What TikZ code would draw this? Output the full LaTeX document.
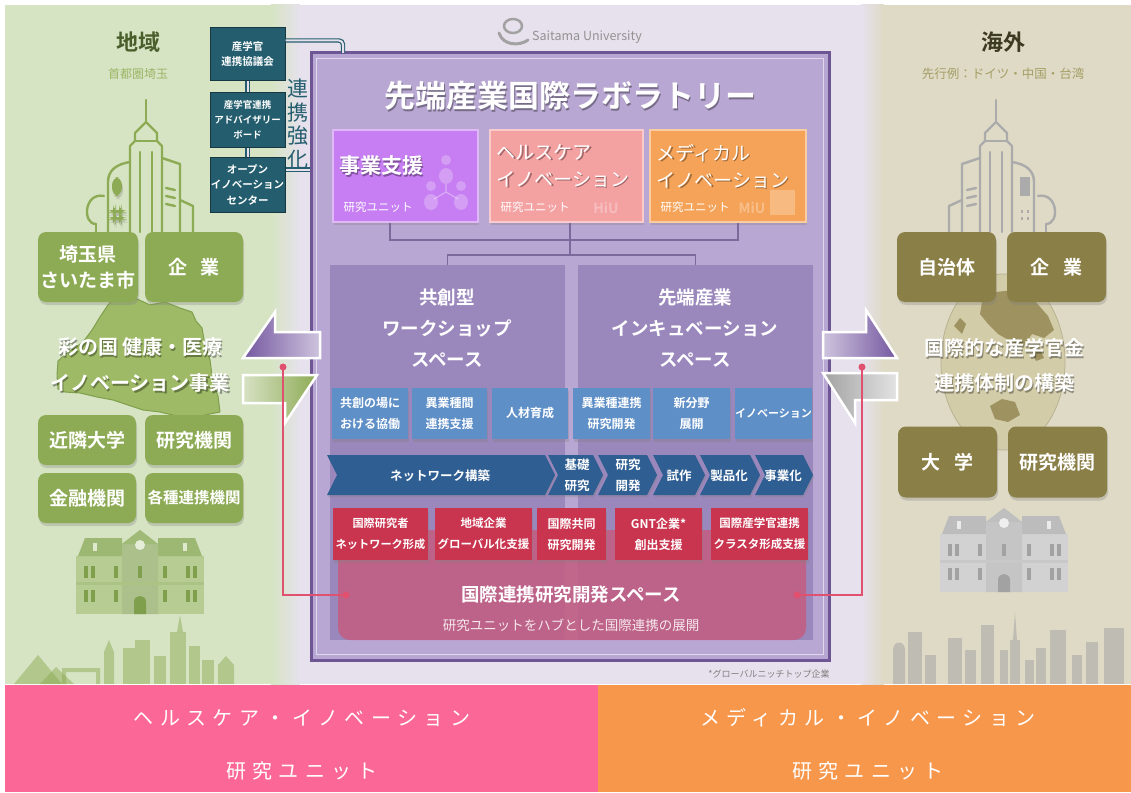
\documentclass[tikz,border=0pt]{standalone}
\usepackage{fontspec}
\setmainfont{Noto Sans CJK JP}[BoldFont={Noto Sans CJK JP Bold}]
\newfontfamily\widejp{Noto Sans CJK JP}[LetterSpace=32]
\usetikzlibrary{calc,shadows}
\newcommand\fsz[2]{\fontsize{#1}{#2}\selectfont}

\definecolor{bgmid}{HTML}{E6E1EC}
\definecolor{bgleft}{HTML}{D6E4C3}
\definecolor{bgright}{HTML}{DEDAC5}
\definecolor{gbox}{HTML}{8DAB55}
\definecolor{gdark}{HTML}{4B5F2C}
\definecolor{glight}{HTML}{9CB566}
\definecolor{gmap}{HTML}{9EBA66}
\definecolor{obox}{HTML}{8B7F48}
\definecolor{odark}{HTML}{3D3A22}
\definecolor{olight}{HTML}{A59E66}
\definecolor{globefill}{HTML}{D3CCA9}
\definecolor{grayline}{HTML}{ABABAB}
\definecolor{graybody}{HTML}{D2D2D2}
\definecolor{graydark}{HTML}{A2A2A2}
\definecolor{gbody}{HTML}{B6CC93}
\definecolor{gwin}{HTML}{7F9F4C}
\definecolor{tealbox}{HTML}{245E6E}
\definecolor{labedge}{HTML}{6E5593}
\definecolor{labfill}{HTML}{B8A7D2}
\definecolor{spacefill}{HTML}{9A87BC}
\definecolor{bluebox}{HTML}{5F8FC7}
\definecolor{chev}{HTML}{2F5E92}
\definecolor{redbox}{HTML}{C9354F}
\definecolor{pinkarea}{HTML}{C45C80}
\definecolor{unitA}{HTML}{C67EF2}
\definecolor{unitB}{HTML}{F4A1A2}
\definecolor{unitC}{HTML}{F5A358}
\definecolor{barpink}{HTML}{FB6797}
\definecolor{barorange}{HTML}{F7974C}
\definecolor{redline}{HTML}{E0516F}
\definecolor{treeline}{HTML}{7D6A9C}
\definecolor{arrowpurple}{HTML}{7457A0}

\tikzset{
  box/.style={inner sep=0pt, align=center, text=white},
  softshadow/.style={drop shadow={opacity=0.3, shadow xshift=1pt, shadow yshift=-3pt}},
  gbox/.style={box, rounded corners=8pt, fill=gbox, font=\bfseries\fsz{19}{26}, softshadow},
  obox/.style={gbox, fill=obox},
  tbox/.style={box, fill=tealbox, draw=tealbox!60!black, line width=1pt, minimum width=75pt},
  unitbox/.style={box, minimum height=92pt, line width=1.5pt, softshadow},
  spacebox/.style={box, fill=spacefill, minimum width=235pt, minimum height=375pt},
  bbox/.style={box, fill=bluebox, minimum height=51pt, font=\bfseries\fsz{12}{21}, softshadow},
  rbox/.style={box, fill=redbox, minimum height=52pt, font=\bfseries\fsz{12}{21}, softshadow},
  chevtext/.style={text=white, font=\bfseries\fsz{12.5}{21}, align=center},
  chevshape/.style={fill=chev, drop shadow={opacity=0.3, shadow xshift=1pt, shadow yshift=-2pt}},
  bartext/.style={text=white, font=\widejp\fsz{20}{24}},
  tealdbl/.style={draw=tealbox, double=bgmid, double distance=2pt, line width=1.2pt},
  treeconn/.style={draw=treeline, line width=1.2pt},
  redconn/.style={draw=redline, line width=2pt},
  reddot/.style={circle, fill=redline, inner sep=0pt, minimum size=7pt},
  arrowedge/.style={draw=white, line width=2.5pt, line join=miter},
}

\newcommand\shadowtext[4]{%
  \node[#3, text=black, text opacity=0.35] (#1s) at ($#2+(1.5,1.5)$) {#4};
  \node[#3] (#1) at #2 {#4};}

% skyscraper outline group
\newcommand\skytower[1]{%
  \begin{scope}[draw=#1, line width=2.4pt, line join=round, line cap=round]
    \draw (146,100) -- (146,121);
    \draw (130,232) -- (130,146) -- (135,141) -- (135,133) -- (146,122) -- (157,133) -- (157,141) -- (162,146) -- (162,232);
    \draw (135,141) -- (157,141);
    \draw (140,152) -- (140,232);
    \draw (152,152) -- (152,232);
    \draw (108,232) -- (108,182) .. controls (108,170) and (117,164) .. (130,162);
    \fill[#1] (112,177) rectangle (122,196);
    \foreach \dx/\dy in {113/210,119/210,113/217,119/217} \fill[#1] (\dx,\dy) rectangle ++(2.5,2.5);
    \draw (96,232) -- (96,224);
    \draw (104,196) .. controls (84,192) and (82,224) .. (96,224);
    \draw (162,158) -- (180,164) -- (180,232);
    \draw (180,200) -- (193,206) -- (193,232);
    \draw (166,188) -- (175,190);
    \draw (166,196) -- (175,198);
    \draw (166,204) -- (175,206);
  \end{scope}}

% old university hall
\newcommand\univhall[4]{%
  \begin{scope}[shift={(#1,#2)}]
    \fill[#3] (0,26) rectangle (128,84);
    \fill[#4!45!#3] (2,26) -- (9,8) -- (46,8) -- (46,26) -- cycle;
    \fill[#4!45!#3] (82,26) -- (82,8) -- (119,8) -- (126,26) -- cycle;
    \fill[#3!94!black] (46,14) -- (64,0) -- (82,14) -- (82,84) -- (46,84) -- cycle;
    \fill[#4!40!#3] (46,14) -- (64,0) -- (82,14) -- cycle;
    \fill[white!65!#3] (64,15) circle (5);
    \fill[white!55!#3] (17,13) rectangle (21,21);
    \fill[white!55!#3] (107,13) rectangle (111,21);
    \fill[#4!20!#3] (0,52) rectangle (128,55);
    \foreach \wx in {8,15,38,87,110,117} {
      \fill[#4] (\wx,36) rectangle ++(4,12);
      \fill[#4] (\wx,60) rectangle ++(4,12);}
    \fill[#4] (62,36) rectangle ++(4,12);
    \fill[#4] (58,84) -- (58,72) .. controls (58,64) and (70,64) .. (70,72) -- (70,84) -- cycle;
  \end{scope}}

\begin{document}
\begin{tikzpicture}[x=1pt,y=-1pt]
\useasboundingbox (0,0) rectangle (1131,792);

% ---------- backgrounds ----------
\fill[white] (0,0) rectangle (1131,792);
\fill[bgleft] (5,5) rectangle (272,684);
\shade[left color=bgleft, right color=bgmid] (271,5) rectangle (300,684);
\fill[bgmid] (299,5) rectangle (862,684);
\shade[left color=bgmid, right color=bgright] (861,5) rectangle (884,684);
\fill[bgright] (883,5) rectangle (1131,684);

% ---------- bottom bars ----------
\node[fill=barpink, minimum width=593pt, minimum height=107pt, inner sep=0pt] (barL) at (301.5,738.5) {};
\node[fill=barorange, minimum width=533pt, minimum height=107pt, inner sep=0pt] (barR) at (864.5,738.5) {};
\node[bartext] (barLa) at (302,718) {ヘルスケア・イノベーション};
\node[bartext] (barLb) at (302,771) {研究ユニット};
\node[bartext] (barRa) at (868,718) {メディカル・イノベーション};
\node[bartext] (barRb) at (868,771) {研究ユニット};

% ---------- left panel : region ----------
\node[text=gdark, font=\bfseries\fsz{22}{26}] (regionT) at (138,42) {地域};
\node[text=glight, font=\fsz{12}{14}] (regionS) at (138,74) {首都圏埼玉};
\skytower{gbox}

% Saitama prefecture outline
\filldraw[fill=gmap, draw=gwin, line width=1pt, line join=round]
  (115,297) -- (125,301) -- (135,298) -- (150,305) -- (165,302) -- (180,308) -- (192,312)
  -- (196,321) -- (202,328) -- (205,345) -- (210,360) -- (213,383) -- (218,396) -- (220,412)
  -- (205,415) -- (190,418) -- (177,416) -- (160,412) -- (143,410) -- (128,405) -- (113,400)
  -- (97,397) -- (80,393) -- (65,392) -- (58,389) -- (57,375) -- (58,361) -- (67,353)
  -- (75,348) -- (83,342) -- (92,330) -- (100,317) -- (108,305) -- cycle;

\node[gbox, minimum width=100pt, minimum height=70pt] (saitama) at (88,267) {埼玉県\\さいたま市};
\node[gbox, minimum width=98pt, minimum height=70pt] (kigyoL) at (194,267) {企\hspace{14pt}業};
\shadowtext{saiT1}{(140,347)}{text=white, font=\bfseries\fsz{20}{24}}{彩の国\hspace{4pt}健康・医療}
\shadowtext{saiT2}{(140,383)}{text=white, font=\bfseries\fsz{20}{24}}{イノベーション事業}
\node[gbox, minimum width=98pt, minimum height=50pt] (kinrin) at (87,440) {近隣大学};
\node[gbox, minimum width=98pt, minimum height=50pt] (kenkyuL) at (194,440) {研究機関};
\node[gbox, minimum width=98pt, minimum height=50pt] (kinyu) at (87,498) {金融機関};
\node[gbox, minimum width=98pt, minimum height=50pt, font=\bfseries\fsz{15.5}{20}] (kakushu) at (194,498) {各種連携機関};

\univhall{76}{530}{gbody}{gwin}

% city skyline, left
\begin{scope}[fill=gbox, fill opacity=0.5]
  \fill (14,684) -- (38,655) -- (62,684) -- cycle;
  \fill (40,684) -- (56,667) -- (74,684) -- cycle;
  \fill (62,684) -- (62,668) -- (100,668) -- (100,684) -- (96,684) -- (96,672) -- (66,672) -- (66,684) -- cycle;
  \fill (104,684) -- (104,652) -- (109,640) -- (114,652) -- (114,684) -- cycle;
  \fill (123,648) rectangle (135,684);
  \fill (135,640) rectangle (150,684);
  \fill (154,656) rectangle (166,684);
  \fill (170,632) rectangle (186,684);
  \fill (177,632) -- (180,615) -- (183,632) -- cycle;
  \fill (189,646) rectangle (200,684);
  \fill (202,660) rectangle (214,684);
  \fill (218,665) -- (226,656) -- (234,665) -- (234,684) -- (218,684) -- cycle;
\end{scope}

% ---------- right panel : overseas ----------
\node[text=odark, font=\bfseries\fsz{22}{26}] (overT) at (1003,42) {海外};
\node[text=olight, font=\fsz{12.5}{14}] (overS) at (1003,74) {先行例：ドイツ・中国・台湾};
\begin{scope}[xshift=1142pt, xscale=-1]
  \skytower{grayline}
\end{scope}

% globe
\filldraw[fill=globefill, draw=obox!60, line width=0.8pt] (1003,362) ellipse [x radius=62, y radius=88];
\begin{scope}[fill=obox, fill opacity=0.75]
  \fill (982,302) -- (996,292) -- (1014,290) -- (1034,300) -- (1048,316) -- (1054,330)
    -- (1044,338) -- (1032,334) -- (1024,346) -- (1012,342) -- (998,334) -- (988,324) -- (980,314) -- cycle;
  \fill (1032,352) -- (1040,349) -- (1044,358) -- (1036,361) -- cycle;
  \fill (990,406) -- (1002,399) -- (1015,402) -- (1020,415) -- (1008,422) -- (995,419) -- cycle;
  \fill (954,326) -- (960,318) -- (966,324) -- (962,334) -- cycle;
\end{scope}

\node[obox, minimum width=99pt, minimum height=70pt] (jichitai) at (946.5,267) {自治体};
\node[obox, minimum width=99pt, minimum height=70pt] (kigyoR) at (1056.5,267) {企\hspace{14pt}業};
\shadowtext{intT1}{(1004,348)}{text=white, font=\bfseries\fsz{20}{24}}{国際的な産学官金}
\shadowtext{intT2}{(1004,383)}{text=white, font=\bfseries\fsz{20}{24}}{連携体制の構築}
\node[obox, minimum width=99pt, minimum height=71pt] (daigaku) at (947.5,462) {大\hspace{14pt}学};
\node[obox, minimum width=99pt, minimum height=71pt] (kenkyuR) at (1057.5,462) {研究機関};

\univhall{940}{508}{graybody}{graydark}

% city skyline, right
\begin{scope}[fill=graydark, fill opacity=0.5]
  \fill (893,684) -- (893,650) .. controls (893,640) and (905,640) .. (905,650) -- (905,684) -- cycle;
  \fill (908,632) rectangle (922,684);
  \fill (925,655) rectangle (936,684);
  \fill (948,638) rectangle (962,684);
  \fill (965,650) rectangle (976,684);
  \fill (981,625) rectangle (994,684);
  \fill (1000,650) rectangle (1008,684);
  \fill (1010,640) rectangle (1020,684);
  \fill (1013,640) -- (1015,612) -- (1017,640) -- cycle;
  \fill (1025,660) rectangle (1034,684);
  \fill (1036,648) rectangle (1046,684);
  \fill (1050,630) rectangle (1066,684);
  \fill (1072,655) rectangle (1082,684);
  \fill (1086,642) rectangle (1098,684);
  \fill (1104,628) rectangle (1124,684);
\end{scope}

% ---------- liaison boxes ----------
\node[tbox, minimum height=52pt, font=\bfseries\fsz{10.5}{15}] (council) at (247.5,54) {産学官\\連携協議会};
\node[tbox, minimum height=55pt, font=\bfseries\fsz{9.5}{15}] (advisory) at (247.5,119.5) {産学官連携\\アドバイザリー\\ボード};
\node[tbox, minimum height=55pt, font=\bfseries\fsz{10.5}{15.5}] (openinno) at (247.5,184.5) {オープン\\イノベーション\\センター};
\draw[tealdbl] (council.south) -- (advisory.north);
\draw[tealdbl] (advisory.south) -- (openinno.north);
\node[text=tealbox, font=\fsz{21}{23.5}, align=center] (kyouka) at (298,124) {連\\携\\強\\化};

% ---------- laboratory ----------
\node[draw=labedge, line width=3pt, fill=labfill, minimum width=518pt, minimum height=607pt, inner sep=0pt] (lab) at (570,356.5) {};
\draw[white!55!labfill, line width=1pt] ($(lab.north west)+(7,7)$) rectangle ($(lab.south east)+(-7,-7)$);
\coordinate (c1) at (343,53);
\draw[tealdbl, rounded corners=4pt] ($(council.north east)+(0,13)$) -| (c1);
\draw[tealdbl] ($(openinno.north east)+(0,13)$) -- ($(openinno.north east -| lab.west)+(0,13)$);

% logo
\draw[graydark, line width=2.5pt] (513,26) ellipse [x radius=9, y radius=7];
\draw[graydark, line width=3pt, line cap=round] (499,33) .. controls (503,46) and (520,46) .. (528,40);
\node[text=graydark!90!black, font=\fsz{12.5}{14}] (logo) at (587,37) {Saitama University};

\shadowtext{labT}{(570,96)}{text=white, font=\bfseries\fsz{31}{36}}{先端産業国際ラボラトリー}

% research units
\node[unitbox, fill=unitA, draw=unitA!55!white, minimum width=145pt] (unitA) at (405.5,176) {};
\node[unitbox, fill=unitB, draw=unitB!55!white, minimum width=153pt] (unitB) at (566.5,176) {};
\node[unitbox, fill=unitC, draw=unitC!55!white, minimum width=156pt] (unitC) at (728,176) {};
\begin{scope}[fill=white, fill opacity=0.25]
  \fill (446,160) circle (5); \fill (446,176) ellipse [x radius=7, y radius=8];
  \fill (431,186) circle (5); \fill (431,202) ellipse [x radius=7, y radius=8];
  \fill (461,186) circle (5); \fill (461,202) ellipse [x radius=7, y radius=8];
  \fill (770,190) rectangle (795,215);
\end{scope}
\draw[white, opacity=0.35, line width=1.2pt] (446,184) -- (446,192) -- (434,199) (446,192) -- (458,199);
\node[text=white, text opacity=0.3, font=\bfseries\fsz{14}{16}] (hiu) at (606,208) {HiU};
\node[text=white, text opacity=0.3, font=\bfseries\fsz{14}{16}] (miu) at (752,208) {MiU};
\shadowtext{unitAt}{(381,166)}{text=white, font=\bfseries\fsz{21}{26}}{事業支援}
\node[anchor=west, text=white, font=\fsz{11.5}{14}] (unitAs) at (340,207) {研究ユニット};
\shadowtext{unitBt}{(563,166)}{text=white, align=left, font=\fsz{19}{27}}{ヘルスケア\\イノベーション}
\node[anchor=west, text=white, font=\fsz{11.5}{14}] (unitBs) at (497,207) {研究ユニット};
\shadowtext{unitCt}{(723,166)}{text=white, align=left, font=\fsz{19}{27}}{メディカル\\イノベーション}
\node[anchor=west, text=white, font=\fsz{11.5}{14}] (unitCs) at (657,207) {研究ユニット};

% spaces
\node[spacebox] (spaceL) at (447.5,452.5) {};
\node[spacebox] (spaceR) at (695.5,452.5) {};
\coordinate (busA) at (390,240);
\coordinate (busC) at (738,240);
\coordinate (busM) at (570,240);
\coordinate (busM2) at (570,255);
\draw[treeconn] (unitA.south -| busA) -- (busA) -- (busC) -- (unitC.south -| busC);
\draw[treeconn] (unitB.south -| busM) -- (busM2);
\draw[treeconn] (spaceL.north) -- (spaceL.north |- busM2) -- (spaceR.north |- busM2) -- (spaceR.north);
\node[text=white, align=center, font=\bfseries\fsz{18.5}{31}] (spaceLt) at (447,328) {共創型\\ワークショップ\\スペース};
\node[text=white, align=center, font=\bfseries\fsz{18.5}{31}] (spaceRt) at (695,328) {先端産業\\インキュベーション\\スペース};

% activity boxes
\node[bbox, minimum width=76pt] (b1) at (370,413) {共創の場に\\おける協働};
\node[bbox, minimum width=75pt] (b2) at (449.5,413) {異業種間\\連携支援};
\node[bbox, minimum width=76pt] (b3) at (530,413) {人材育成};
\node[bbox, minimum width=77pt] (b4) at (611.5,413) {異業種連携\\研究開発};
\node[bbox, minimum width=77pt] (b5) at (691.5,413) {新分野\\展開};
\node[bbox, minimum width=77pt, font=\bfseries\fsz{11}{20}] (b6) at (773.5,413) {イノベーション};

% pink international space
\node[fill=pinkarea, fill opacity=0.85, rounded corners=12pt, minimum width=468pt, minimum height=110pt, inner sep=0pt] (intl) at (572,585) {};

% process chevrons
\fill[chevshape] (327,455) -- (545,455) -- (555,475) -- (545,495) -- (327,495) -- (337,475) -- cycle;
\foreach \ca/\cb in {548/603, 598/657, 653/705, 700/760, 755/813}
  \fill[chevshape] (\ca,455) -- (\cb-10,455) -- (\cb,475) -- (\cb-10,495) -- (\ca,495) -- (\ca+10,475) -- cycle;
\node[chevtext] (ch0) at (440,476) {ネットワーク構築};
\node[chevtext] (ch1) at (577,475) {基礎\\研究};
\node[chevtext] (ch2) at (628,475) {研究\\開発};
\node[chevtext] (ch3) at (679,476) {試作};
\node[chevtext] (ch4) at (729,476) {製品化};
\node[chevtext] (ch5) at (783,476) {事業化};

% international projects
\node[rbox, minimum width=95pt, font=\bfseries\fsz{11.2}{21}] (r1) at (380.5,534) {国際研究者\\ネットワーク形成};
\node[rbox, minimum width=97pt, font=\bfseries\fsz{11.5}{21}] (r2) at (483.5,534) {地域企業\\グローバル化支援};
\node[rbox, minimum width=69pt] (r3) at (571.5,534) {国際共同\\研究開発};
\node[rbox, minimum width=87pt] (r4) at (658.5,534) {GNT企業*\\創出支援};
\node[rbox, minimum width=97pt, font=\bfseries\fsz{11.5}{21}] (r5) at (759.5,534) {国際産学官連携\\クラスタ形成支援};
\node[text=white, font=\bfseries\fsz{18.5}{22}] (intlT) at (571,595) {国際連携研究開発スペース};
\node[text=white!85!pinkarea, font=\fsz{13.5}{16}] (intlS) at (571,625) {研究ユニットをハブとした国際連携の展開};
\node[text=gray, font=\fsz{9}{11}] (note) at (769,674) {*グローバルニッチトップ企業};

% ---------- exchange arrows ----------
\draw[arrowedge, left color=arrowpurple, right color=arrowpurple!35!white]
  (320,332) -- (275,332) -- (275,312) -- (243,358) -- (320,358) -- cycle;
\draw[arrowedge, left color=gbox!35!white, right color=gbox]
  (243,375) -- (317,375) -- (285,423) -- (285,403) -- (243,403) -- cycle;
\draw[arrowedge, left color=arrowpurple!35!white, right color=arrowpurple]
  (823,332) -- (866,332) -- (866,310) -- (897,358) -- (823,358) -- cycle;
\draw[arrowedge, left color=graydark, right color=graydark!30!white]
  (897,373) -- (823,373) -- (855,423) -- (855,400) -- (897,400) -- cycle;

% ---------- red links ----------
\node[reddot] (rdL1) at (283,367) {};
\node[reddot] (rdL2) at (346,595) {};
\node[reddot] (rdR1) at (862,367) {};
\node[reddot] (rdR2) at (797,595) {};
\draw[redconn] (rdL1.center) |- (rdL2.center);
\draw[redconn] (rdR1.center) |- (rdR2.center);

\end{tikzpicture}
\end{document}
